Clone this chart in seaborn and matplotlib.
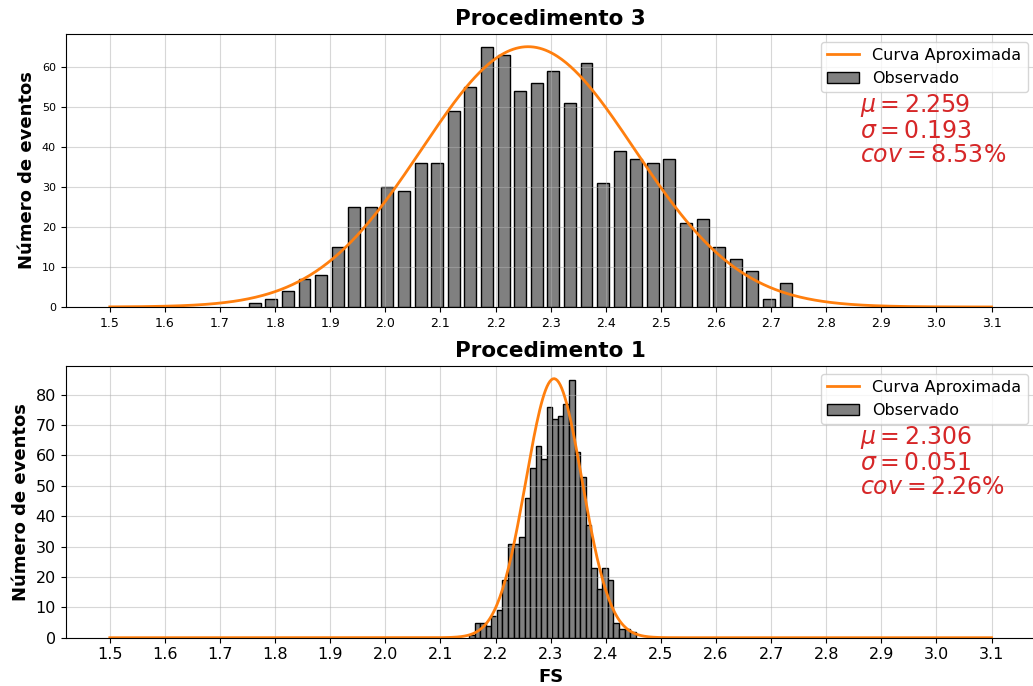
import numpy as np
import pandas as pd
import matplotlib
matplotlib.use("Agg")
import matplotlib.pyplot as plt
from matplotlib.patches import Patch
from matplotlib.ticker import MultipleLocator
import seaborn as sns

# Procedimento 3 - observed counts (bin centres start at 1.763, width ~0.0301)
p3_counts = [1, 2, 4, 7, 8, 15, 25, 25, 30, 29, 36, 36, 49, 55, 65, 63, 54,
             56, 59, 51, 61, 31, 39, 37, 36, 37, 21, 22, 15, 12, 9, 2, 6]
p3_first_center = 1.763
p3_bin_width = 0.0301
p3_mu, p3_sigma, p3_cov = 2.259, 0.193, 8.53
p3_peak = 65.0

# Procedimento 1 - observed counts (bin centres start at 2.157, width ~0.01007)
p1_counts = [1, 5, 5, 4, 7, 9, 19, 31, 31, 33, 46, 56, 63, 59, 76, 72, 73,
             77, 85, 61, 53, 37, 23, 16, 23, 19, 5, 3, 3, 2]
p1_first_center = 2.157
p1_bin_width = 0.01007
p1_mu, p1_sigma, p1_cov = 2.306, 0.051, 2.26
p1_peak = 85.3

curve_range = (1.5, 3.1)
xticks = np.round(np.arange(1.5, 3.11, 0.1), 1)


def draw_panel(ax, counts, c0, bw, mu, sigma, cov, peak, title, shrink,
               tick_x, tick_y):
    counts = np.array(counts)
    centers = c0 + bw * np.arange(len(counts))
    edges = np.append(centers - bw / 2, centers[-1] + bw / 2)

    # fitted normal curve
    xs = np.linspace(curve_range[0], curve_range[1], 600)
    ys = peak * np.exp(-0.5 * ((xs - mu) / sigma) ** 2)
    sns.lineplot(x=xs, y=ys, ax=ax, color="tab:orange", linewidth=2)

    df = pd.DataFrame({"FS": centers, "n": counts})
    sns.histplot(data=df, x="FS", weights="n", bins=[float(e) for e in edges],
                 shrink=shrink, ax=ax, color="gray", edgecolor="black",
                 linewidth=1, alpha=1)

    ax.set_xlim(1.42, 3.18)
    ax.set_ylim(0, max(peak, max(counts)) * 1.05)
    ax.set_xticks(xticks)
    ax.set_xticklabels([f"{t:.1f}" for t in xticks])
    ax.yaxis.set_major_locator(MultipleLocator(10))
    ax.tick_params(axis="x", labelsize=tick_x)
    ax.tick_params(axis="y", labelsize=tick_y)
    ax.grid(True, alpha=0.5)
    ax.set_title(title, fontsize=15.5, fontweight="bold")
    ax.set_ylabel("Número de eventos", fontsize=13, fontweight="bold")
    ax.set_xlabel("")

    handles = [plt.Line2D([], [], color="tab:orange", linewidth=2),
               Patch(facecolor="gray", edgecolor="black")]
    ax.legend(handles, ["Curva Aproximada", "Observado"], loc="upper right",
              fontsize=11.5)
    ax.text(0.819, 0.785,
            f"$\\mu = {mu:.3f}$\n$\\sigma = {sigma:.3f}$\n$cov = {cov:.2f}\\%$",
            transform=ax.transAxes, ha="left", va="top", fontsize=17,
            linespacing=1.0, color="tab:red")


fig = plt.figure(figsize=(10.33, 6.86), dpi=100)
ax_top = fig.add_axes([0.0636, 0.5525, 0.939, 0.3984])
ax_bot = fig.add_axes([0.0636, 0.0704, 0.939, 0.3965])

draw_panel(ax_top, p3_counts, p3_first_center, p3_bin_width, p3_mu, p3_sigma,
           p3_cov, p3_peak, "Procedimento 3", 0.72, 9, 8)
draw_panel(ax_bot, p1_counts, p1_first_center, p1_bin_width, p1_mu, p1_sigma,
           p1_cov, p1_peak, "Procedimento 1", 1.0, 11.5, 11.5)
ax_bot.set_xlabel("FS", fontsize=13, fontweight="bold")

fig.savefig("out.png", dpi=100)
